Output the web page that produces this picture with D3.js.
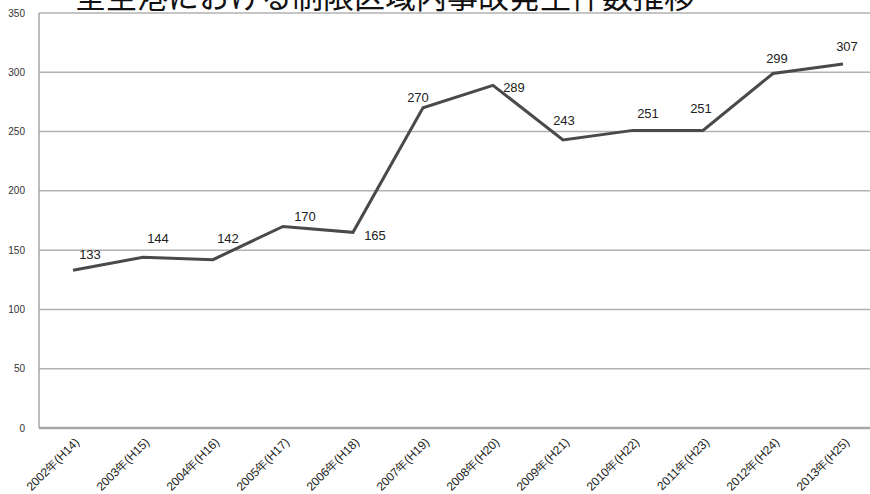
<!DOCTYPE html>
<html><head><meta charset="utf-8">
<script src="https://cdn.jsdelivr.net/npm/d3@7"></script>
<style>body{margin:0;background:#fff}svg{display:block}</style>
</head><body><svg id="c" width="870" height="494"></svg>
<script>
const title = "全空港における制限区域内事故発生件数推移";
const categories = ["2002年(H14)","2003年(H15)","2004年(H16)","2005年(H17)","2006年(H18)","2007年(H19)","2008年(H20)","2009年(H21)","2010年(H22)","2011年(H23)","2012年(H24)","2013年(H25)"];
const values = [133,144,142,170,165,270,289,243,251,251,299,307];
const yTicks = [0,50,100,150,200,250,300,350];
// label offsets (dx, dy) relative to each point
const labelDx = [17,15,15,22,22,-5,21,1,15,-2,4,4];
const labelDy = [-16,-19,-21,-10,3,-10,2,-19,-17,-22,-15,-18];

const svg = d3.select("#c");
const x = d3.scalePoint().domain(categories).range([73, 843]);
const y = d3.scaleLinear().domain([0,350]).range([428, 13]);

// gridlines
svg.append("g").selectAll("line").data(yTicks.filter(d=>d>0)).join("line")
  .attr("x1",39).attr("x2",870).attr("y1",d=>y(d)).attr("y2",d=>y(d))
  .attr("stroke","#b2b2b2").attr("stroke-width",1.5);
// axes
svg.append("line").attr("x1",39).attr("x2",39).attr("y1",y(350)).attr("y2",y(0))
  .attr("stroke","#a6a6a6").attr("stroke-width",1.5);
svg.append("line").attr("x1",39).attr("x2",870).attr("y1",y(0)).attr("y2",y(0))
  .attr("stroke","#a6a6a6").attr("stroke-width",2.5);

// y tick labels
svg.append("g").selectAll("text").data(yTicks).join("text")
  .attr("x",25).attr("y",d=>y(d)).attr("dy","0.35em").attr("text-anchor","end")
  .attr("font-family","Liberation Sans, Arial, sans-serif").attr("font-size",10).attr("fill","#333")
  .text(d=>d);

// x tick labels
svg.append("g").selectAll("text").data(categories).join("text")
  .attr("transform",d=>`translate(${x(d)+4},${440}) rotate(-45)`)
  .attr("text-anchor","end").attr("dy","0.35em")
  .attr("font-family","Liberation Sans Narrow, Liberation Sans, sans-serif").attr("font-size",12).attr("fill","#222")
  .text(d=>d);

// line
const line = d3.line().x((d,i)=>x(categories[i])).y(d=>y(d));
svg.append("path").datum(values).attr("d",line).attr("fill","none")
  .attr("stroke","#4a4a4a").attr("stroke-width",3).attr("stroke-linejoin","miter");

// data labels
svg.append("g").selectAll("text").data(values).join("text")
  .attr("x",(d,i)=>x(categories[i])+labelDx[i]).attr("y",(d,i)=>y(d)+labelDy[i])
  .attr("dy","0.35em").attr("text-anchor","middle")
  .attr("font-family","Liberation Sans, Arial, sans-serif").attr("font-size",13).attr("fill","#222")
  .text(d=>d);

// title
svg.append("text").attr("x",385).attr("y",8).attr("text-anchor","middle")
  .attr("font-family","Noto Sans CJK JP, sans-serif").attr("font-size",31).attr("fill","#111")
  .text(title);
</script></body></html>
